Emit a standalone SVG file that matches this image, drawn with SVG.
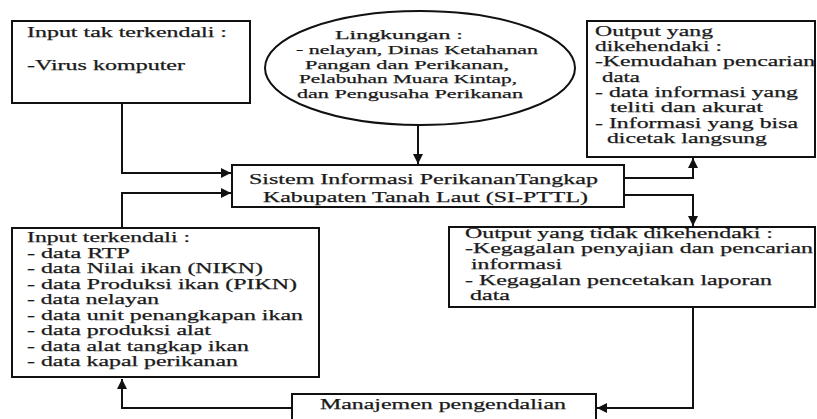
<svg xmlns="http://www.w3.org/2000/svg" width="817" height="419" viewBox="0 0 817 419">
<style>
.box{fill:#fff;stroke:#111;stroke-width:2}
.t{font-family:"Liberation Serif","DejaVu Serif",serif;font-size:15px;fill:#1a1a1a;stroke:#1a1a1a;stroke-width:0.25}
.s{font-size:13.5px}
.c{fill:none;stroke:#111;stroke-width:2}
</style>
<defs>
<marker id="ah" viewBox="0 0 10 10" refX="10" refY="5" markerWidth="5" markerHeight="5" orient="auto" markerUnits="strokeWidth">
<path d="M0,0 L10,5 L0,10 z" fill="#111"/>
</marker>
</defs>
<rect width="817" height="419" fill="#fff"/>
<g id="connectors">
<path class="c" d="M122,103 V173 H231" marker-end="url(#ah)"/>
<path class="c" d="M122,228 V193 H231" marker-end="url(#ah)"/>
<path class="c" d="M418,125 V164" marker-end="url(#ah)"/>
<path class="c" d="M624,178 H693 V158" marker-end="url(#ah)"/>
<path class="c" d="M624,195 H693 V226" marker-end="url(#ah)"/>
<path class="c" d="M693,307 V408 H597" marker-end="url(#ah)"/>
<path class="c" d="M292,408 H122 V379" marker-end="url(#ah)"/>
</g>
<g id="input-tak-terkendali">
<rect class="box" x="12" y="21" width="238" height="82"/>
<text class="t" x="27" y="37" textLength="200" lengthAdjust="spacingAndGlyphs">Input tak terkendali :</text>
<text class="t" x="27" y="70" textLength="158" lengthAdjust="spacingAndGlyphs">-Virus komputer</text>
</g>
<g id="lingkungan">
<ellipse cx="420" cy="68" rx="155" ry="57" fill="#fff" stroke="#111" stroke-width="2"/>
<text class="t s" x="335" y="39" textLength="128" lengthAdjust="spacingAndGlyphs">Lingkungan :</text>
<text class="t s" x="296" y="54" textLength="242" lengthAdjust="spacingAndGlyphs">- nelayan, Dinas Ketahanan</text>
<text class="t s" x="305" y="68.5" textLength="204" lengthAdjust="spacingAndGlyphs">Pangan dan Perikanan,</text>
<text class="t s" x="299" y="83" textLength="218" lengthAdjust="spacingAndGlyphs">Pelabuhan Muara Kintap,</text>
<text class="t s" x="297" y="97.5" textLength="226" lengthAdjust="spacingAndGlyphs">dan Pengusaha Perikanan</text>
</g>
<g id="output-dikehendaki">
<rect class="box" x="587" y="21" width="228" height="136"/>
<text class="t" x="595" y="36" textLength="118" lengthAdjust="spacingAndGlyphs">Output yang</text>
<text class="t" x="595" y="51" textLength="127" lengthAdjust="spacingAndGlyphs">dikehendaki :</text>
<text class="t" x="595" y="66" textLength="220" lengthAdjust="spacingAndGlyphs">-Kemudahan pencarian</text>
<text class="t" x="602" y="82" textLength="38" lengthAdjust="spacingAndGlyphs">data</text>
<text class="t" x="595" y="97" textLength="203" lengthAdjust="spacingAndGlyphs">- data informasi yang</text>
<text class="t" x="610" y="112" textLength="153" lengthAdjust="spacingAndGlyphs">teliti dan akurat</text>
<text class="t" x="595" y="128" textLength="203" lengthAdjust="spacingAndGlyphs">- Informasi yang bisa</text>
<text class="t" x="607" y="143" textLength="160" lengthAdjust="spacingAndGlyphs">dicetak langsung</text>
</g>
<g id="si-pttl">
<rect class="box" x="232" y="165" width="392" height="42"/>
<text class="t" x="249" y="184" textLength="349" lengthAdjust="spacingAndGlyphs">Sistem Informasi PerikananTangkap</text>
<text class="t" x="263" y="202" textLength="325" lengthAdjust="spacingAndGlyphs">Kabupaten Tanah Laut (SI-PTTL)</text>
</g>
<g id="input-terkendali">
<rect class="box" x="12" y="228" width="307" height="149"/>
<text class="t" x="27" y="242" textLength="163" lengthAdjust="spacingAndGlyphs">Input terkendali :</text>
<text class="t" x="27" y="257.5" textLength="103" lengthAdjust="spacingAndGlyphs">- data RTP</text>
<text class="t" x="27" y="273" textLength="236" lengthAdjust="spacingAndGlyphs">- data Nilai ikan (NIKN)</text>
<text class="t" x="27" y="288.5" textLength="270" lengthAdjust="spacingAndGlyphs">- data Produksi ikan (PIKN)</text>
<text class="t" x="27" y="304" textLength="132" lengthAdjust="spacingAndGlyphs">- data nelayan</text>
<text class="t" x="27" y="319.5" textLength="276" lengthAdjust="spacingAndGlyphs">- data unit penangkapan ikan</text>
<text class="t" x="27" y="335" textLength="184" lengthAdjust="spacingAndGlyphs">- data produksi alat</text>
<text class="t" x="27" y="350.5" textLength="222" lengthAdjust="spacingAndGlyphs">- data alat tangkap ikan</text>
<text class="t" x="27" y="366" textLength="211" lengthAdjust="spacingAndGlyphs">- data kapal perikanan</text>
</g>
<g id="output-tidak-dikehendaki">
<rect class="box" x="449" y="227" width="366" height="80"/>
<text class="t" x="465" y="238" textLength="308" lengthAdjust="spacingAndGlyphs">Output yang tidak dikehendaki :</text>
<text class="t" x="465" y="253" textLength="348" lengthAdjust="spacingAndGlyphs">-Kegagalan penyajian dan pencarian</text>
<text class="t" x="471" y="269" textLength="91" lengthAdjust="spacingAndGlyphs">informasi</text>
<text class="t" x="465" y="285" textLength="307" lengthAdjust="spacingAndGlyphs">- Kegagalan pencetakan laporan</text>
<text class="t" x="470" y="300" textLength="40" lengthAdjust="spacingAndGlyphs">data</text>
</g>
<g id="manajemen">
<rect class="box" x="292" y="394" width="304" height="30"/>
<text class="t" x="320" y="409" textLength="246" lengthAdjust="spacingAndGlyphs">Manajemen pengendalian</text>
</g>
</svg>
